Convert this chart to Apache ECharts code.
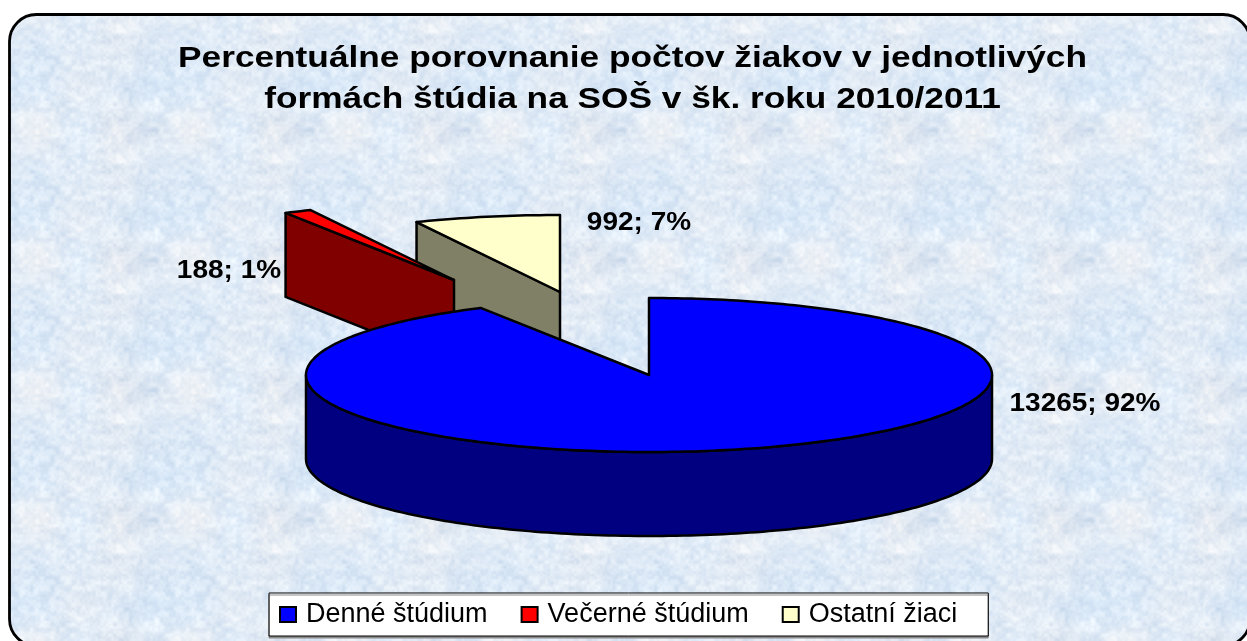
<!DOCTYPE html>
<html><head><meta charset="utf-8">
<style>html,body{margin:0;padding:0;background:#fff}#c{width:1247px;height:641px}</style>
<script src="https://cdn.jsdelivr.net/npm/echarts@6/dist/echarts.min.js"></script>
</head><body><div id="c"></div>
<script>
const categories = ['Denné štúdium', 'Večerné štúdium', 'Ostatní žiaci'];
const values = [13265, 188, 992];
const titleLines = ['Percentuálne porovnanie počtov žiakov v jednotlivých', 'formách štúdia na SOŠ v šk. roku 2010/2011'];

const topColors = ['#0000FF', '#FF0000', '#FFFFCC'];
const wallColors = ['#000080', '#800000', '#808066'];
const explodeX = [0, 195, 89], explodeY = [0, 95, 83];
const labelX = [1085, 229, 639], labelY = [404.5, 271, 223];
const drawZ = [3, 2, 1];
const CX = 649, CY = 375, RX = 343, RY = 77, DEPTH = 84;
const FONT = '"Liberation Sans", Arial, sans-serif';

const total = values.reduce((a, b) => a + b, 0);
const TAU = Math.PI * 2;
function angles(i) {
  const before = values.slice(0, i).reduce((a, b) => a + b, 0);
  return [before / total * TAU, (before + values[i]) / total * TAU];
}
function rim(a, ox, oy) { return [ox + RX * Math.sin(a), oy - RY * Math.cos(a)]; }
function arc(a0, a1, ox, oy) {
  const n = Math.max(2, Math.ceil(Math.abs(a1 - a0) / 0.02)), pts = [];
  for (let k = 0; k <= n; k++) pts.push(rim(a0 + (a1 - a0) * k / n, ox, oy));
  return pts;
}
function poly(points, fill) {
  return { type: 'polygon', shape: { points }, style: { fill, stroke: '#000', lineWidth: 2.5, lineJoin: 'round' } };
}
function sliceElement(i) {
  const [a0, a1] = angles(i);
  const ox = CX - explodeX[i], oy = CY - explodeY[i];
  const children = [];
  if (i > 0) {
    const s = rim(a0, ox, oy);
    children.push(poly([[ox, oy], s, [s[0], s[1] + DEPTH], [ox, oy + DEPTH]], wallColors[i]));
  } else {
    const front = arc(Math.PI / 2, Math.PI * 1.5, ox, oy);
    const bottom = front.map(p => [p[0], p[1] + DEPTH]).reverse();
    children.push(poly(front.concat(bottom), wallColors[i]));
  }
  children.push(poly([[ox, oy]].concat(arc(a0, a1, ox, oy)), topColors[i]));
  children.push({
    type: 'text', x: labelX[i], y: labelY[i], scaleX: 1.12, style: {
      text: values[i] + '; ' + Math.round(values[i] / total * 100) + '%',
      align: 'center', verticalAlign: 'middle',
      font: 'bold 25px ' + FONT, fill: '#000'
    }
  });
  return { type: 'group', children };
}

// pale marbled backdrop tile: periodic value noise on a fixed integer hash
function makeTile() {
  const W = 156, H = 130, cv = document.createElement('canvas');
  cv.width = W; cv.height = H;
  const ctx = cv.getContext('2d'), img = ctx.createImageData(W, H);
  const hash = (a, b, s) => {
    let h = (a * 374761393 + b * 668265263 + s * 2147483) | 0;
    h = Math.imul(h ^ (h >>> 13), 1274126177);
    return (((h ^ (h >>> 16)) >>> 0) % 1000) / 1000;
  };
  const smooth = t => t * t * (3 - 2 * t);
  const noise = (x, y, nx, ny, s) => {
    const fx = x / W * nx, fy = y / H * ny;
    const ix = Math.floor(fx), iy = Math.floor(fy), tx = smooth(fx - ix), ty = smooth(fy - iy);
    const g = (a, b) => hash(a % nx, b % ny, s);
    const top = g(ix, iy) * (1 - tx) + g(ix + 1, iy) * tx;
    const bot = g(ix, iy + 1) * (1 - tx) + g(ix + 1, iy + 1) * tx;
    return top * (1 - ty) + bot * ty - 0.5;
  };
  for (let y = 0; y < H; y++) for (let x = 0; x < W; x++) {
    const n = noise(x, y, 5, 4, 1) * 0.35 + noise(x, y, 12, 10, 2) * 0.7 + noise(x, y, 30, 25, 3) * 0.9 + noise(x, y, 60, 50, 4) * 0.6;
    const t = noise(x, y, 4, 3, 5);
    const p = (y * W + x) * 4;
    img.data[p] = 224 + n * 24 - t * 12;
    img.data[p + 1] = 234 + n * 18 - t * 2;
    img.data[p + 2] = 245 + n * 10 + t * 6;
    img.data[p + 3] = 255;
  }
  ctx.putImageData(img, 0, 0);
  return cv;
}

const chart = echarts.init(document.getElementById('c'), null, { renderer: 'canvas' });
chart.setOption({
  animation: false,
  backgroundColor: '#fff',
  graphic: [
    { type: 'rect', z: -10, shape: { x: 9.5, y: 14.5, width: 1240.5, height: 631.5, r: 27 },
      style: { fill: { image: makeTile(), repeat: 'repeat' }, stroke: '#000', lineWidth: 2.8 } }
  ].concat(titleLines.map((t, i) => ({
    type: 'text', z: 5, x: 632.5, y: 59 + i * 41, scaleX: 1.175,
    style: { text: t, align: 'center', verticalAlign: 'middle', font: 'bold 30px ' + FONT, fill: '#000' }
  }))),
  legend: {
    data: categories, left: 269, top: 593, orient: 'horizontal',
    padding: [8, 31, 8, 10], itemGap: 33, itemWidth: 16, itemHeight: 15, icon: 'rect',
    backgroundColor: '#fff', borderColor: '#000', borderWidth: 1,
    shadowColor: '#8a8a8a', shadowBlur: 0, shadowOffsetX: 0, shadowOffsetY: 2,
    itemStyle: { borderColor: '#000', borderWidth: 2 },
    textStyle: { fontFamily: FONT, fontSize: 27, color: '#000', padding: [0, 0, 0, 5] }
  },
  series: categories.map((name, i) => ({
    type: 'custom', name, coordinateSystem: 'none', silent: true, z: drawZ[i],
    itemStyle: { color: topColors[i] },
    data: [{ name, value: values[i] }],
    renderItem: () => sliceElement(i)
  }))
});
</script></body></html>
